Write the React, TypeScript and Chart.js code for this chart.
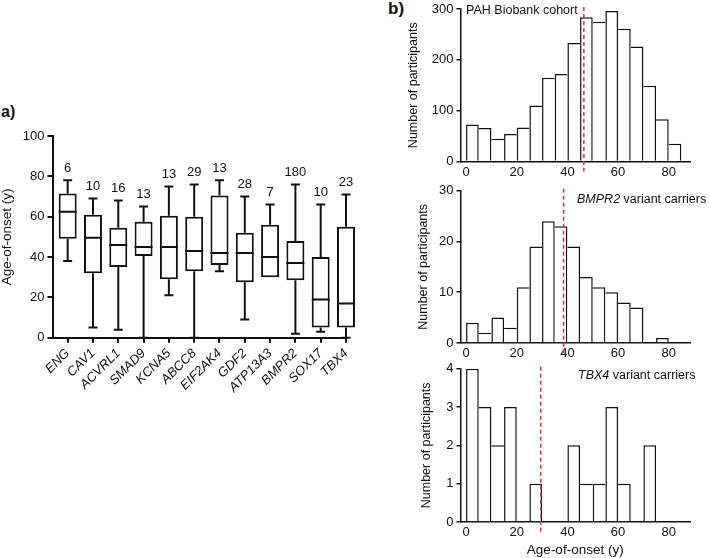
import React, { useEffect, useRef } from 'react';
import { Chart, registerables } from 'chart.js';

Chart.register(...registerables);

const FONT = '"Liberation Sans", Arial, Helvetica, sans-serif';
const INK = '#111111';
const RED = '#d2363a';

// ---------- Panel a: age-of-onset by gene (box plot) ----------
const GENES = ['ENG', 'CAV1', 'ACVRL1', 'SMAD9', 'KCNA5', 'ABCC8', 'EIF2AK4', 'GDF2', 'ATP13A3', 'BMPR2', 'SOX17', 'TBX4'];
const GENE_N = [6, 10, 16, 13, 13, 29, 13, 28, 7, 180, 10, 23];
const BOX_MIN = [38, 5, 4, 0, 21, 0, 33, 9, 30, 2, 3, 0];
const BOX_Q1 = [49, 32, 35, 40.5, 29, 33, 36, 27.5, 30, 28.5, 5, 5];
const BOX_MEDIAN = [62.5, 49.5, 46, 45, 45, 43, 42, 42, 40, 37, 19, 17];
const BOX_Q3 = [71.5, 61, 54.5, 57.5, 60.5, 60, 70.5, 52, 56, 48, 40, 55];
const BOX_MAX = [78, 69, 68, 65, 75, 76, 78, 70, 66, 76, 66, 71];
const AGE_Y_TICKS = [0, 20, 40, 60, 80, 100];

// ---------- Panel b: histograms ----------
const BIN_STARTS = [0, 5, 10, 15, 20, 25, 30, 35, 40, 45, 50, 55, 60, 65, 70, 75, 80];
const BIN_WIDTH = 5;
const AGE_X_TICKS = [0, 20, 40, 60, 80];

const PAH_COUNTS = [73, 66, 45, 54, 67, 110, 165, 172, 233, 284, 275, 296, 261, 226, 149, 83, 35];
const PAH_MEDIAN = 46.5;
const PAH_Y_TICKS = [0, 100, 200, 300];

const BMPR2_COUNTS = [4, 2, 5, 3, 11, 19, 24, 23, 19, 13, 11, 10, 8, 7, 0, 1, 0];
const BMPR2_MEDIAN = 38.5;
const BMPR2_Y_TICKS = [0, 10, 20, 30];

const TBX4_COUNTS = [4, 3, 2, 3, 0, 1, 0, 0, 2, 1, 1, 3, 1, 0, 2, 0, 0];
const TBX4_MEDIAN = 29.5;
const TBX4_Y_TICKS = [0, 1, 2, 3, 4];

const zeroPad = (s: any) => {
  s.paddingTop = 0;
  s.paddingBottom = 0;
  s.paddingLeft = 0;
  s.paddingRight = 0;
};

const boxPlugin = {
  id: 'boxWhisker',
  afterDatasetsDraw(chart: any) {
    const { ctx } = chart;
    const x = chart.scales.x;
    const y = chart.scales.y;
    const meta = chart.getDatasetMeta(0);
    const py = (v: number) => y.getPixelForValue(v);
    ctx.save();
    ctx.strokeStyle = INK;
    ctx.lineWidth = 2;
    ctx.lineCap = 'butt';
    GENES.forEach((g, i) => {
      const cx = x.getPixelForValue(i);
      const half = meta.data[i].width / 2;
      const cap = half * 0.5;
      ctx.beginPath();
      ctx.moveTo(cx - half, py(BOX_MEDIAN[i]));
      ctx.lineTo(cx + half, py(BOX_MEDIAN[i]));
      if (BOX_MAX[i] > BOX_Q3[i]) {
        ctx.moveTo(cx, py(BOX_Q3[i]));
        ctx.lineTo(cx, py(BOX_MAX[i]));
        ctx.moveTo(cx - cap, py(BOX_MAX[i]));
        ctx.lineTo(cx + cap, py(BOX_MAX[i]));
      }
      if (BOX_MIN[i] < BOX_Q1[i]) {
        ctx.moveTo(cx, py(BOX_Q1[i]));
        ctx.lineTo(cx, py(BOX_MIN[i]));
        ctx.moveTo(cx - cap, py(BOX_MIN[i]));
        ctx.lineTo(cx + cap, py(BOX_MIN[i]));
      }
      ctx.stroke();
      ctx.fillStyle = INK;
      ctx.font = `13px ${FONT}`;
      ctx.textAlign = 'center';
      ctx.textBaseline = 'middle';
      ctx.fillText(String(GENE_N[i]), cx, py(BOX_MAX[i]) - 12);
    });
    ctx.restore();
  },
};

function boxConfig(): any {
  return {
    type: 'bar',
    data: {
      datasets: [
        {
          data: GENES.map((g, i) => ({ x: i, y: [BOX_Q1[i], BOX_Q3[i]] })),
          backgroundColor: '#ffffff',
          borderColor: INK,
          borderWidth: 2,
          borderSkipped: false,
          inflateAmount: 0,
          barPercentage: 0.71,
          categoryPercentage: 1,
          clip: false,
        },
      ],
    },
    options: {
      responsive: false,
      animation: false,
      events: [],
      layout: { padding: { left: 0, top: 56, right: 34, bottom: 22.3 } },
      plugins: { legend: { display: false }, tooltip: { enabled: false } },
      scales: {
        x: {
          type: 'linear',
          min: -0.6,
          max: 11,
          offset: false,
          afterBuildTicks: (s: any) => {
            s.ticks = GENES.map((g, i) => ({ value: i }));
          },
          afterFit: (s: any) => {
            s.height = 100;
            zeroPad(s);
          },
          ticks: {
            autoSkip: false,
            minRotation: 45,
            maxRotation: 45,
            padding: 3,
            color: INK,
            font: { family: FONT, size: 13, style: 'italic' },
            callback: (v: any) => GENES[Math.round(v)],
          },
          grid: { drawOnChartArea: false, drawTicks: true, tickLength: 5, color: INK, lineWidth: 2, offset: false },
          border: { display: true, color: INK, width: 2 },
        },
        y: {
          min: 0,
          max: 100,
          afterBuildTicks: (s: any) => {
            s.ticks = AGE_Y_TICKS.map((v) => ({ value: v }));
          },
          afterFit: (s: any) => {
            s.width = 52.5;
            zeroPad(s);
          },
          title: {
            display: true,
            text: 'Age-of-onset (y)',
            color: INK,
            padding: 0,
            font: { family: FONT, size: 13.5, lineHeight: 1.1 },
          },
          ticks: { padding: 3, color: INK, font: { family: FONT, size: 13 } },
          grid: { drawOnChartArea: false, drawTicks: true, tickLength: 5, color: INK, lineWidth: 2 },
          border: { display: true, color: INK, width: 2 },
        },
      },
    },
    plugins: [boxPlugin],
  };
}

type LabelPart = { text: string; italic: boolean };

function histPlugin(median: number, parts: LabelPart[], labelX: number, labelDy: number) {
  return {
    id: 'histExtras',
    afterDatasetsDraw(chart: any) {
      const { ctx, chartArea } = chart;
      const x = chart.scales.x;
      ctx.save();
      // median dashed line
      const mx = x.getPixelForValue(median);
      ctx.strokeStyle = RED;
      ctx.lineWidth = 1.5;
      ctx.setLineDash([4, 3]);
      ctx.beginPath();
      ctx.moveTo(mx, chartArea.top - 2);
      ctx.lineTo(mx, chartArea.bottom + 10);
      ctx.stroke();
      ctx.setLineDash([]);
      // label
      let tx = x.getPixelForValue(labelX);
      const ty = chartArea.top + labelDy;
      ctx.fillStyle = INK;
      ctx.textAlign = 'left';
      ctx.textBaseline = 'middle';
      parts.forEach((p) => {
        ctx.font = `${p.italic ? 'italic ' : ''}12.5px ${FONT}`;
        ctx.fillText(p.text, tx, ty);
        tx += ctx.measureText(p.text).width;
      });
      ctx.restore();
    },
  };
}

type HistOpts = {
  counts: number[];
  median: number;
  yTicks: number[];
  titlePad: number;
  xAxisHeight: number;
  padTop: number;
  xTitle: boolean;
  parts: LabelPart[];
  labelX: number;
  labelDy: number;
};

function histConfig(o: HistOpts): any {
  const LW = 1.5;
  const counts = o.counts;
  return {
    type: 'bar',
    data: {
      datasets: [
        {
          data: BIN_STARTS.map((s, i) => ({ x: s + BIN_WIDTH / 2, y: counts[i] })),
          backgroundColor: '#ffffff',
          borderColor: INK,
          borderSkipped: false,
          inflateAmount: 0,
          barPercentage: 1,
          categoryPercentage: 1,
          borderWidth: (c: any) => {
            const i = c.dataIndex;
            const v = counts[i];
            if (!v) return 0;
            const prev = i > 0 ? counts[i - 1] : 0;
            const next = i < counts.length - 1 ? counts[i + 1] : 0;
            return { top: LW, bottom: 0, left: prev <= v ? LW : 0, right: next < v ? LW : 0 };
          },
        },
      ],
    },
    options: {
      responsive: false,
      animation: false,
      events: [],
      layout: { padding: { left: 0, top: o.padTop, right: 19, bottom: 0 } },
      plugins: { legend: { display: false }, tooltip: { enabled: false } },
      scales: {
        x: {
          type: 'linear',
          min: -2.2,
          max: 88.4,
          offset: false,
          afterBuildTicks: (s: any) => {
            s.ticks = AGE_X_TICKS.map((v) => ({ value: v }));
          },
          afterFit: (s: any) => {
            s.height = o.xAxisHeight;
            zeroPad(s);
          },
          ticks: { padding: 3, maxRotation: 0, color: INK, font: { family: FONT, size: 13 } },
          grid: { display: false, drawTicks: false, offset: false },
          border: { display: true, color: INK, width: LW },
          title: {
            display: o.xTitle,
            text: 'Age-of-onset (y)',
            color: INK,
            padding: 0,
            font: { family: FONT, size: 13.5 },
          },
        },
        y: {
          min: 0,
          max: o.yTicks[o.yTicks.length - 1],
          afterBuildTicks: (s: any) => {
            s.ticks = o.yTicks.map((v) => ({ value: v }));
          },
          afterFit: (s: any) => {
            s.width = 80.5;
            zeroPad(s);
          },
          title: {
            display: true,
            text: 'Number of participants',
            color: INK,
            padding: { top: o.titlePad, bottom: 0 },
            font: { family: FONT, size: 12.5 },
          },
          ticks: { padding: 3, color: INK, font: { family: FONT, size: 13 } },
          grid: { drawOnChartArea: false, drawTicks: true, tickLength: 4, color: INK, lineWidth: LW },
          border: { display: true, color: INK, width: LW },
        },
      },
    },
    plugins: [histPlugin(o.median, o.parts, o.labelX, o.labelDy)],
  };
}

export default function App() {
  const r0 = useRef<HTMLCanvasElement>(null);
  const r1 = useRef<HTMLCanvasElement>(null);
  const r2 = useRef<HTMLCanvasElement>(null);
  const r3 = useRef<HTMLCanvasElement>(null);

  useEffect(() => {
    const charts = [
      new Chart(r0.current as any, boxConfig()),
      new Chart(
        r1.current as any,
        histConfig({
          counts: PAH_COUNTS,
          median: PAH_MEDIAN,
          yTicks: PAH_Y_TICKS,
          titlePad: 26.5,
          xAxisHeight: 16.5,
          padTop: 9,
          xTitle: false,
          parts: [{ text: 'PAH Biobank cohort', italic: false }],
          labelX: 0,
          labelDy: 2,
        })
      ),
      new Chart(
        r2.current as any,
        histConfig({
          counts: BMPR2_COUNTS,
          median: BMPR2_MEDIAN,
          yTicks: BMPR2_Y_TICKS,
          titlePad: 36.5,
          xAxisHeight: 17,
          padTop: 12.7,
          xTitle: false,
          parts: [
            { text: 'BMPR2', italic: true },
            { text: ' variant carriers', italic: false },
          ],
          labelX: 43.8,
          labelDy: 9.3,
        })
      ),
      new Chart(
        r3.current as any,
        histConfig({
          counts: TBX4_COUNTS,
          median: TBX4_MEDIAN,
          yTicks: TBX4_Y_TICKS,
          titlePad: 39.5,
          xAxisHeight: 36,
          padTop: 10.7,
          xTitle: true,
          parts: [
            { text: 'TBX4', italic: true },
            { text: ' variant carriers', italic: false },
          ],
          labelX: 44.2,
          labelDy: 7,
        })
      ),
    ];
    return () => charts.forEach((c) => c.destroy());
  }, []);

  const abs = (left: number, top: number, w: number, h: number): React.CSSProperties => ({
    position: 'absolute',
    left,
    top,
    width: w,
    height: h,
  });

  return (
    <div style={{ position: 'absolute', left: 0, top: 0, width: 709, height: 558, background: '#ffffff', overflow: 'hidden' }}>
      <div style={{ position: 'absolute', left: 1, top: 103, font: `bold 16px ${FONT}`, lineHeight: '18px', color: INK }}>a)</div>
      <div style={{ position: 'absolute', left: 388, top: 0, font: `bold 17px ${FONT}`, lineHeight: '18px', color: INK }}>b)</div>
      <canvas ref={r0} width={380} height={380} style={abs(0, 80, 380, 380)} />
      <canvas ref={r1} width={329} height={178} style={abs(380, 0, 329, 178)} />
      <canvas ref={r2} width={329} height={182} style={abs(380, 178, 329, 182)} />
      <canvas ref={r3} width={329} height={200} style={abs(380, 358, 329, 200)} />
    </div>
  );
}
